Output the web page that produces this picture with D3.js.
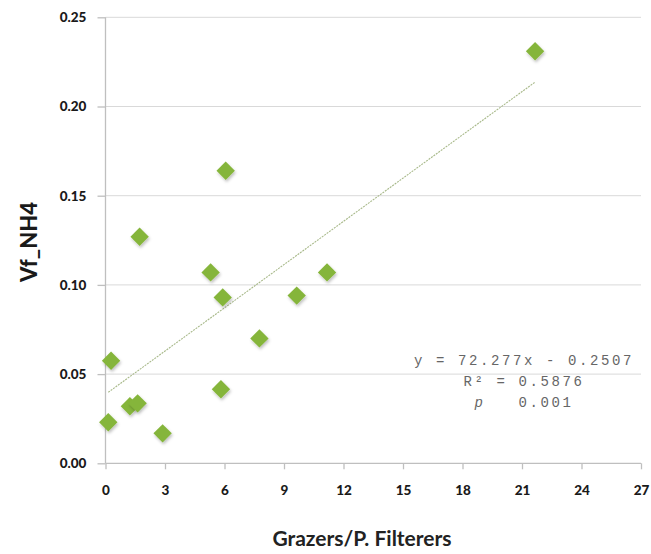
<!DOCTYPE html>
<html>
<head>
<meta charset="utf-8">
<script src="https://cdn.jsdelivr.net/npm/d3@7"></script>
<style>
body { margin: 0; background: #fff; }
svg { display: block; }
</style>
</head>
<body>
<script>
// values
const grazers = [21.66, 6.06, 1.72, 5.3, 11.17, 5.91, 9.64, 7.76, 0.28, 5.82, 1.23, 1.62, 0.14, 2.88];
const vfNH4 = [0.231, 0.164, 0.127, 0.107, 0.107, 0.093, 0.094, 0.070, 0.0575, 0.0415, 0.032, 0.0336, 0.023, 0.0168];
const xTicks = [0, 3, 6, 9, 12, 15, 18, 21, 24, 27];
const yTicks = [0, 0.05, 0.10, 0.15, 0.20, 0.25];
const statLines = ["y = 72.277x - 0.2507", "R\u00b2 = 0.5876", "p   0.001"];

const width = 651, height = 554;
const plotLeft = 105.5, plotRight = 641, plotTop = 17.3, plotBottom = 463.3;

const points = grazers.map((g, i) => [g, vfNH4[i]]);

const x = d3.scaleLinear().domain([0, 27]).range([plotLeft, plotRight]);
const y = d3.scaleLinear().domain([0, 0.25]).range([plotBottom, plotTop]);

const svg = d3.select("body").append("svg")
  .attr("width", width)
  .attr("height", height);

const defs = svg.append("defs");
const shadow = defs.append("filter").attr("id", "shadow")
  .attr("x", "-50%").attr("y", "-50%").attr("width", "200%").attr("height", "200%");
shadow.append("feDropShadow")
  .attr("dx", 1).attr("dy", 2).attr("stdDeviation", 1.5)
  .attr("flood-color", "#000").attr("flood-opacity", 0.25);

// gridlines
svg.append("g")
  .selectAll("line")
  .data(yTicks.filter(d => d > 0))
  .enter()
  .append("line")
  .attr("x1", plotLeft).attr("x2", plotRight)
  .attr("y1", d => y(d)).attr("y2", d => y(d))
  .attr("stroke", "#d9d9d9")
  .attr("stroke-width", 1);

// axes
const xAxis = d3.axisBottom(x).tickValues(xTicks).tickSize(6).tickFormat(d3.format("d"));
const yAxis = d3.axisLeft(y).tickValues(yTicks).tickSize(8).tickFormat(d3.format(".2f"));

const gx = svg.append("g")
  .attr("transform", `translate(0, ${plotBottom})`)
  .call(xAxis);
const gy = svg.append("g")
  .attr("transform", `translate(${plotLeft}, 0)`)
  .call(yAxis);

[gx, gy].forEach(g => {
  g.select(".domain").attr("stroke", "#bfbfbf").attr("stroke-width", 1.3);
  g.selectAll(".tick line").attr("stroke", "#bfbfbf").attr("stroke-width", 1.3);
  g.selectAll("text")
    .attr("font-family", "Lato, 'Liberation Sans', sans-serif")
    .attr("font-weight", 900)
    .attr("font-size", 13.5)
    .attr("fill", "#1a1a1a");
});
gx.selectAll("text").attr("dy", "1.7em");
gy.selectAll("text").attr("dx", "-0.6em");
// trim the domain so it has no outer ticks
gx.select(".domain").attr("d", `M${plotLeft},0H${plotRight}`);
gy.select(".domain").attr("d", `M0,${plotBottom}V${plotTop}`);

// regression line
const mx = d3.mean(points, d => d[0]);
const my = d3.mean(points, d => d[1]);
const slope = d3.sum(points, d => (d[0] - mx) * (d[1] - my)) / d3.sum(points, d => (d[0] - mx) ** 2);
const icpt = my - slope * mx;
const [minX, maxX] = d3.extent(points, d => d[0]);

svg.append("line")
  .attr("x1", x(minX)).attr("y1", y(icpt + slope * minX))
  .attr("x2", x(maxX)).attr("y2", y(icpt + slope * maxX))
  .attr("stroke", "#a8b98a")
  .attr("stroke-width", 1.1)
  .attr("stroke-dasharray", "2,1");

// markers
const diamond = d3.symbol().type(d3.symbolDiamond2).size(215);
svg.append("g")
  .selectAll("path")
  .data(points)
  .enter()
  .append("path")
  .attr("d", diamond)
  .attr("transform", d => `translate(${x(d[0])}, ${y(d[1])})`)
  .attr("fill", "#85b53a")
  .attr("filter", "url(#shadow)");

// stats text
const stats = svg.append("text")
  .attr("font-family", "'Liberation Mono', 'DejaVu Sans Mono', monospace")
  .attr("font-size", 14)
  .attr("letter-spacing", 2.6)
  .attr("fill", "#666")
  .attr("text-anchor", "middle")
  .style("white-space", "pre");
statLines.forEach((s, i) => {
  const t = stats.append("tspan")
    .attr("x", 524)
    .attr("y", 365 + i * 21);
  if (i === 2) {
    t.append("tspan").attr("font-style", "italic").text("p");
    t.append("tspan").text(s.slice(1));
  } else {
    t.text(s);
  }
});

// axis titles
svg.append("text")
  .attr("x", 362)
  .attr("y", 546)
  .attr("text-anchor", "middle")
  .attr("font-family", "Lato, 'Liberation Sans', sans-serif")
  .attr("font-weight", "bold")
  .attr("font-size", 21)
  .attr("fill", "#222")
  .text("Grazers/P. Filterers");

svg.append("text")
  .attr("transform", "translate(37, 242) rotate(-90)")
  .attr("text-anchor", "middle")
  .attr("font-family", "Lato, 'Liberation Sans', sans-serif")
  .attr("font-weight", 900)
  .attr("font-size", 22)
  .attr("fill", "#1a1a1a")
  .text("Vf_NH4");
</script>
</body>
</html>
